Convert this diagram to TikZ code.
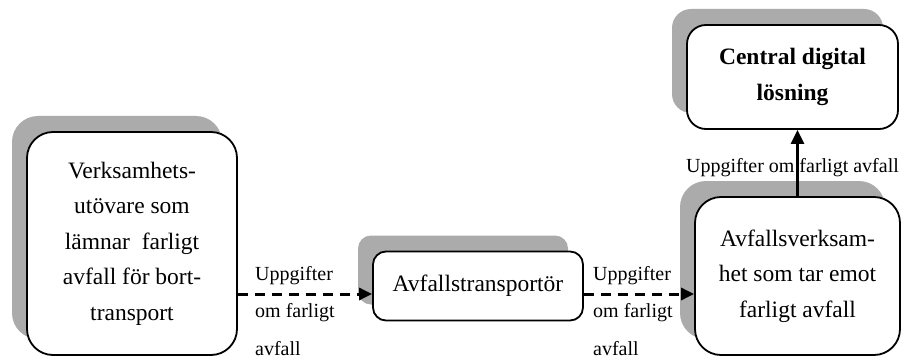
\documentclass[tikz,border=0pt]{standalone}
\usepackage{fontspec}
\setmainfont{Liberation Serif}
\usetikzlibrary{shadows,arrows.meta}
\begin{document}
\begin{tikzpicture}[x=1pt,y=-1pt,
  actor/.style={draw=black, line width=1.8pt, fill=white, align=center, inner sep=0pt,
    font=\fontsize{23.5}{35.5}\selectfont,
    copy shadow={shadow xshift=-15pt, shadow yshift=16pt, draw=none, fill=black!33}},
  infolabel/.style={align=left, inner sep=0pt, font=\fontsize{20}{37.5}\selectfont},
  dataflow/.style={line width=3pt, dash pattern=on 10pt off 7pt,
    -{Triangle[length=13pt,width=12pt]}},
  report/.style={line width=2.6pt, -{Triangle[length=14pt,width=13pt]}}
]
\useasboundingbox (0,0) rectangle (901,358);

% the four parties
\node[actor, rounded corners=26pt, minimum width=210pt, minimum height=223pt] (src)
  at (132,243.5) {Verksamhets-\\utövare som\\lämnar\ \ farligt\\avfall för bort-\\transport};
\node[actor, rounded corners=13pt, minimum width=210pt, minimum height=69pt] (trans)
  at (478,286) {Avfallstransportör};
\node[actor, rounded corners=26pt, minimum width=205pt, minimum height=158pt] (recv)
  at (797.5,276) {Avfallsverksam-\\het som tar emot\\farligt avfall};
\node[actor, rounded corners=19pt, minimum width=211pt, minimum height=104pt,
  font=\fontsize{23.5}{36}\selectfont\bfseries] (cen)
  at (792.5,77) {Central digital\\lösning};

% information flows
\coordinate (lane) at ([yshift=-8pt]trans.west);
\draw[dataflow] (src.east |- lane) -- (lane);
\draw[dataflow] (trans.east |- lane) -- (recv.west |- lane);
\draw[report] (recv.north) -- (recv.north |- cen.south);

% flow labels
\node[infolabel, anchor=north west] (l1) at (255,266) {Uppgifter\\om farligt\\avfall};
\node[infolabel, anchor=north west] (l2) at (593,266) {Uppgifter\\om farligt\\avfall};
\node[infolabel, font=\fontsize{20}{24}\selectfont, anchor=base] (l3)
  at (792.5,172) {Uppgifter om farligt avfall};
\end{tikzpicture}
\end{document}
